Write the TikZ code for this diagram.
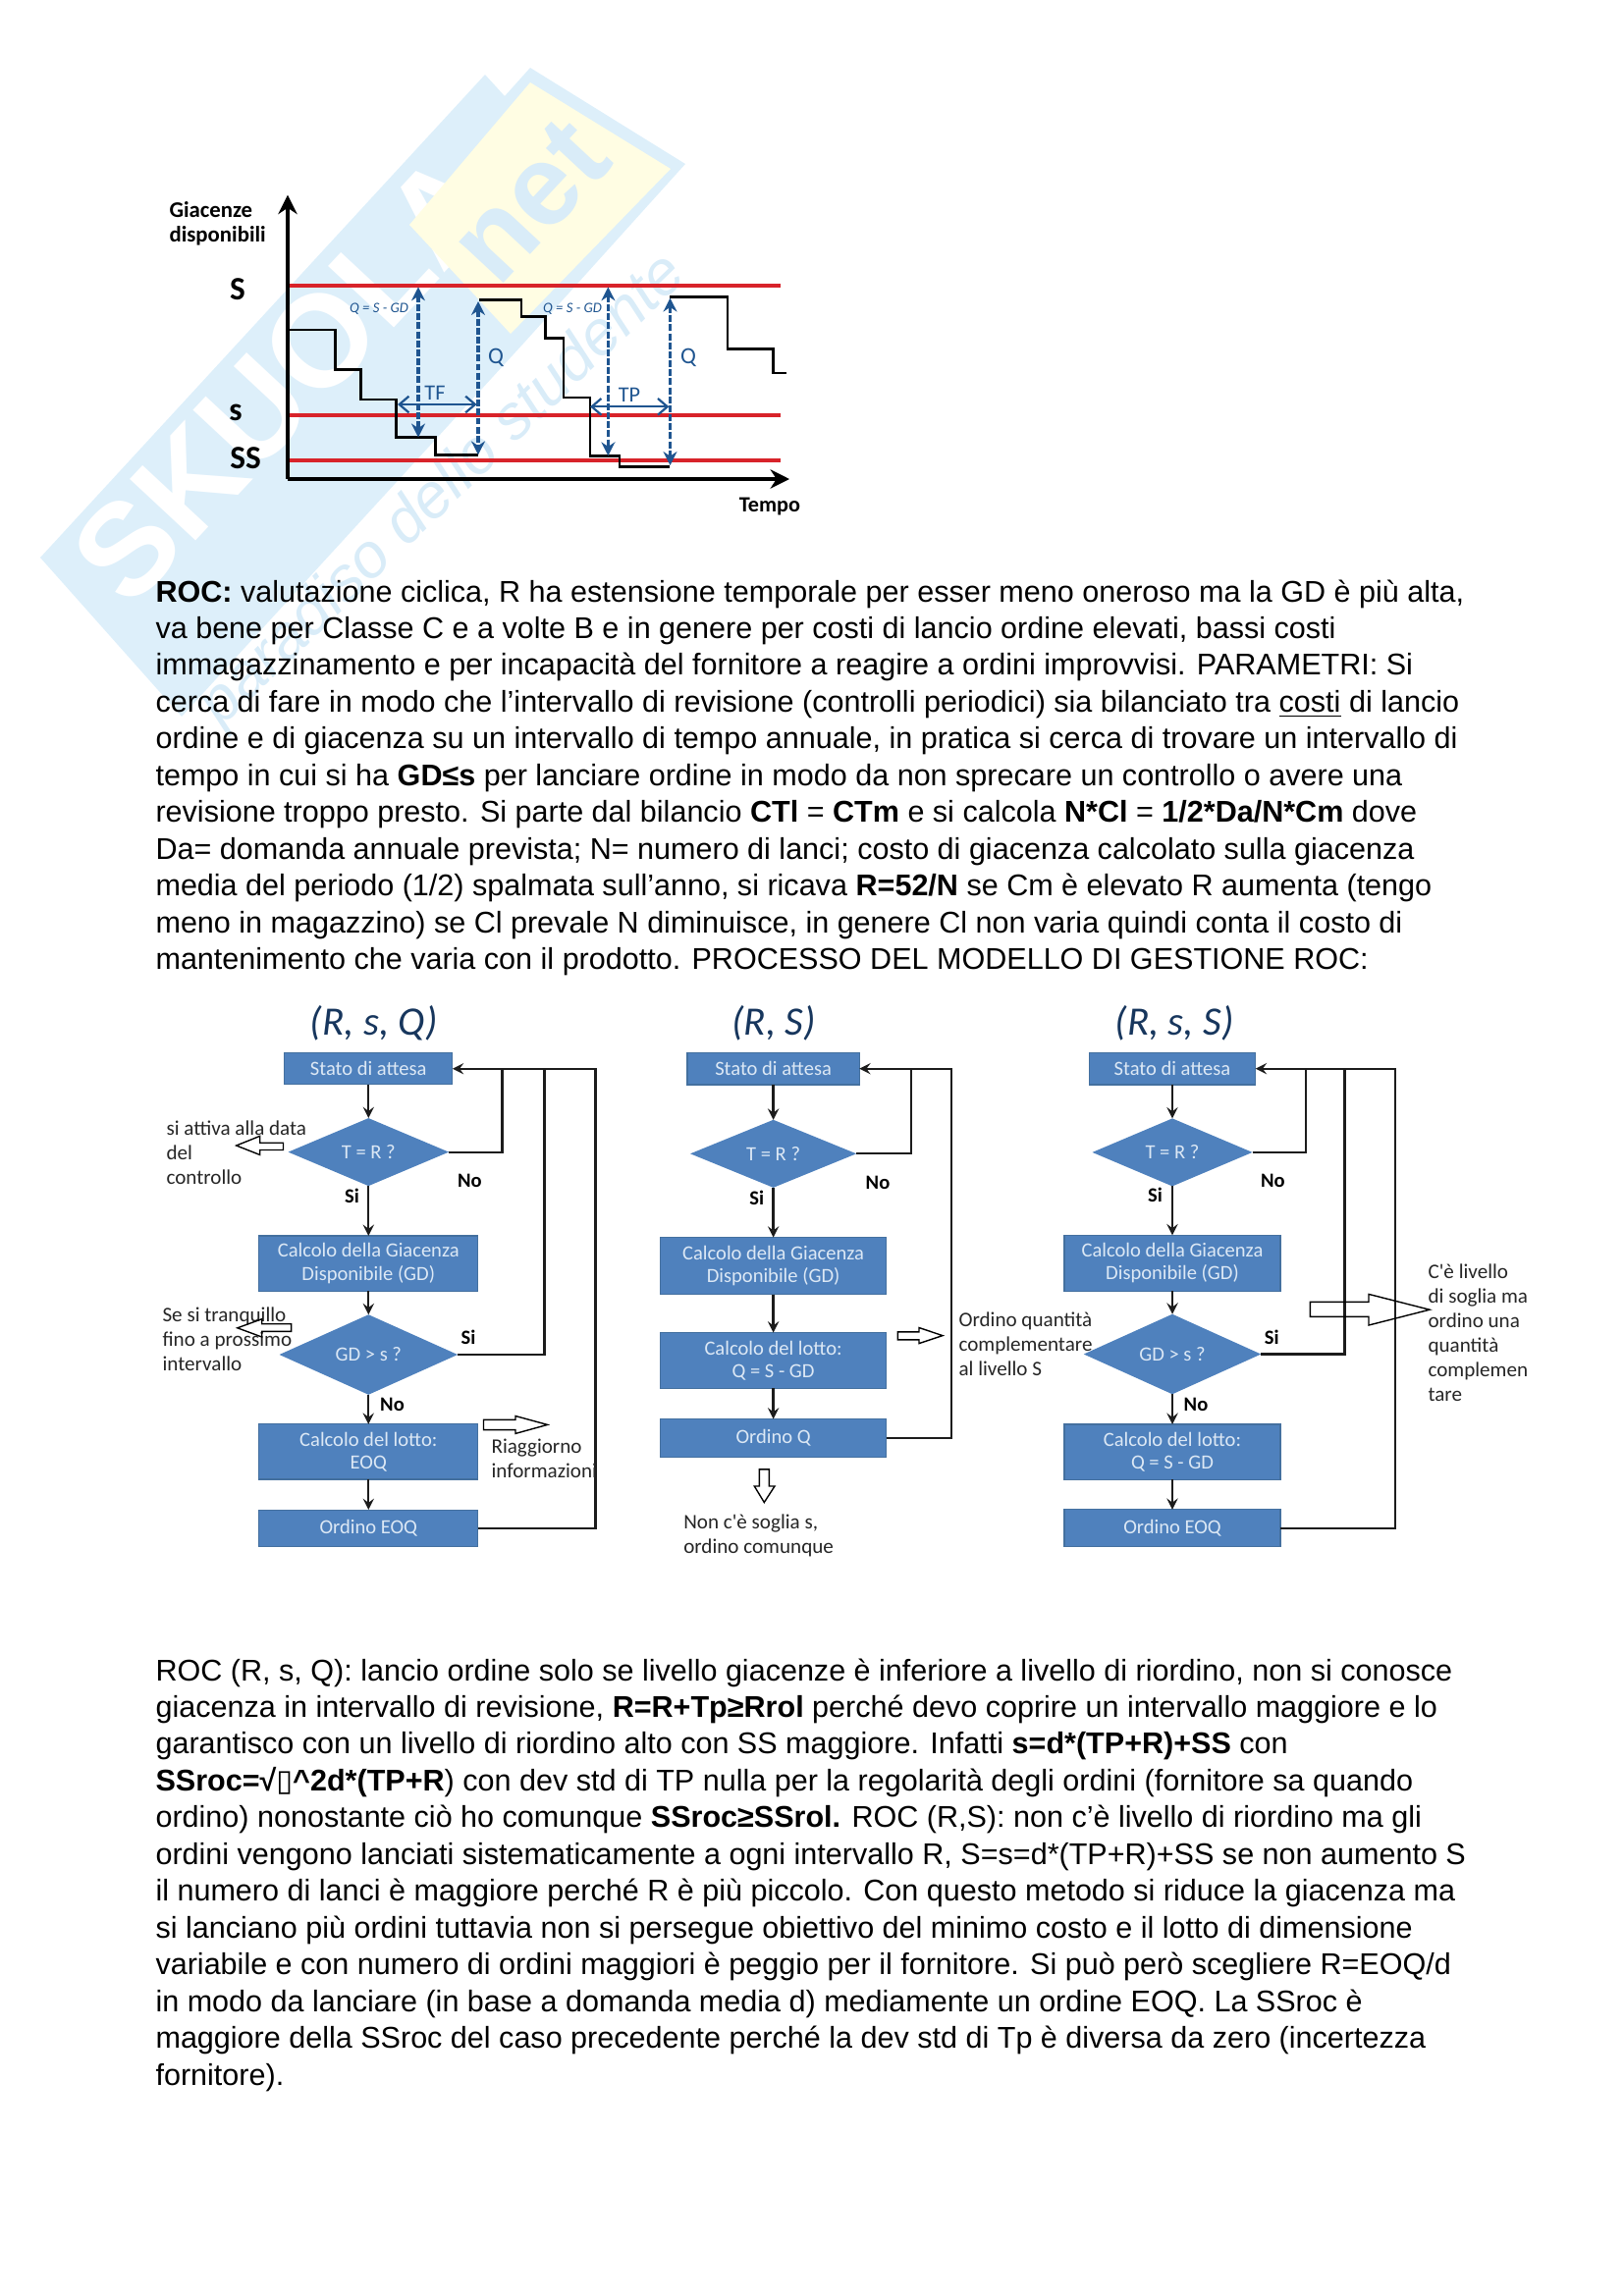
\documentclass[tikz,border=0pt]{standalone}
\usepackage{fontspec}
\setmainfont{Liberation Sans}
\newfontfamily\calfont{Carlito}
\newfontfamily\boxglyph{DejaVu Sans}
\usetikzlibrary{shapes.geometric, arrows.meta}

\definecolor{wmblue}{HTML}{DDEFFA}
\definecolor{wmyellow}{HTML}{FFFDE3}
\definecolor{wmtext}{HTML}{D9ECF8}
\definecolor{boxblue}{HTML}{4F81BD}
\definecolor{boxedge}{HTML}{44709F}
\definecolor{boxtext}{HTML}{DCE8F5}
\definecolor{stockred}{HTML}{D8232A}
\definecolor{stockblue}{HTML}{1F5590}
\definecolor{titleblue}{HTML}{17365D}
\definecolor{flowblack}{HTML}{1C1C1C}

\tikzset{
    flowbox/.style 2 args={rectangle, draw=boxedge, fill=boxblue, text=boxtext, align=center, inner sep=0pt, outer sep=0pt,
        minimum width=#1pt, minimum height=#2pt, font=\calfont\fontsize{7.4}{8.4}\selectfont},
    flowtest/.style 2 args={diamond, fill=boxblue, text=boxtext, inner sep=0pt, outer sep=0pt,
        minimum width=#1pt, minimum height=#2pt, font=\calfont\fontsize{7.4}{8.4}\selectfont},
    flowline/.style={draw=flowblack, line width=0.8pt},
    flowdown/.style={flowline, -stealth},
    flowlabel/.style={inner sep=0pt, font=\calfont\bfseries\fontsize{7.4}{9}\selectfont},
    flownote/.style={inner sep=0pt, anchor=west, align=left, text=black!85, font=\calfont\fontsize{7.6}{9}\selectfont},
    flowtitle/.style={inner sep=0pt, text=titleblue, font=\calfont\itshape\fontsize{14.8}{16}\selectfont},
    notearrow/.style={draw=black, line width=0.5pt},
    stocklevel/.style={draw=stockred, line width=1.1pt},
    stockstep/.style={draw=black, line width=1pt},
    stockaxis/.style={draw=black, line width=1.4pt, -{Stealth[length=7pt, width=7pt]}},
    stocktime/.style={draw=stockblue, line width=1.1pt, dash pattern=on 2.5pt off 0.8pt, {Stealth[length=5pt, width=5pt]}-{Stealth[length=5pt, width=5pt]}},
    stocklead/.style={draw=stockblue, line width=0.8pt, {Straight Barb[length=3.5pt, width=6pt]}-{Straight Barb[length=3.5pt, width=6pt]}},
    stocklabel/.style={inner sep=0pt, font=\calfont\bfseries\fontsize{12}{14}\selectfont},
    stockblue/.style={inner sep=0pt, text=stockblue, font=\calfont\fontsize{8.5}{10}\selectfont},
    pagetext/.style={inner sep=0pt, anchor=north west, align=left, font=\fontsize{11}{13.49}\selectfont},
}

\begin{document}
\begin{tikzpicture}[x=0.36012pt, y=-0.36012pt]
    \useasboundingbox (0,0) rectangle (1653,2339);

    % watermark
    \fill[wmblue] (41,568) -- (494,76) -- (514,98) -- (540,69) -- (698,167) -- (533,350) -- (185,730) -- cycle;
    \node (wmskuola) at (291,385) [rotate=47, inner sep=0pt, text=white, font=\bfseries\fontsize{48}{52}\selectfont] {SKUOLA};
    \fill[wmyellow] (540,84) -- (683,172) -- (520,340) -- (417,229) -- cycle;
    \node (wmnet) at (540,205) [rotate=47, inner sep=0pt, text=wmtext, font=\bfseries\fontsize{42}{46}\selectfont] {net};
    \node (wmline) at (452,500) [rotate=44, inner sep=0pt, text=wmtext, font=\itshape\fontsize{23}{26}\selectfont] {paradiso dello studente};

    % stock chart
    \draw[stocklevel] (293,291) -- (795,291);
    \draw[stocklevel] (293,423) -- (795,423);
    \draw[stocklevel] (293,469) -- (795,469);

    \draw[stockstep] (294.5,336) -- (341.6,336) -- (341.6,376.8) -- (367.4,376.8) -- (367.4,407) -- (403.6,407) -- (403.6,445.5) -- (443.2,445.5) -- (443.2,463.4) -- (486.8,463.4);
    \draw[stockstep] (488,305.8) -- (531,305.8) -- (531,322.3) -- (555.7,322.3) -- (555.7,344.2) -- (574,344.2) -- (574,405) -- (601,405) -- (601,464.3) -- (631,464.3) -- (631,475.4) -- (682,475.4);
    \draw[stockstep] (682,302.7) -- (741,302.7) -- (741,355.8) -- (787.6,355.8) -- (787.6,380) -- (800.8,380);

    \draw[stocktime] (426,292.4) -- (426,445.5);
    \draw[stocktime] (487,307) -- (487,463.4);
    \draw[stocktime] (619.4,292.4) -- (619.4,464.3);
    \draw[stocktime] (682.5,303.6) -- (682.5,474);
    \draw[stocklead] (405,412) -- (485.6,412);
    \draw[stocklead] (601,414.3) -- (681.4,414.3);

    \draw[stockaxis] (293,488) -- (293,198.7);
    \draw[stockaxis] (293,488) -- (804,488);

    \node (stockname) at (172,228) [inner sep=0pt, anchor=west, align=left, font=\calfont\bfseries\fontsize{8.2}{8.8}\selectfont] {Giacenze\\disponibili};
    \node (stocktempo) at (784,516.5) [inner sep=0pt, font=\calfont\bfseries\fontsize{8}{9}\selectfont] {Tempo};
    \node (levelS) at (242,294.6) [stocklabel] {S};
    \node (levels) at (240,420.5) [stocklabel] {s};
    \node (levelSS) at (250,466.5) [stocklabel] {SS};
    \node (orderQa) at (505,364.7) [stockblue] {Q};
    \node (orderQb) at (701,364.7) [stockblue] {Q};
    \node (leadTa) at (443,400.4) [stockblue, font=\calfont\fontsize{8}{10}\selectfont] {TF};
    \node (leadTb) at (641,402) [stockblue, font=\calfont\fontsize{8}{10}\selectfont] {TP};
    \node (gapa) at (386,314.7) [stockblue, font=\calfont\itshape\fontsize{5.3}{6}\selectfont] {Q = S - GD};
    \node (gapb) at (583,314.7) [stockblue, font=\calfont\itshape\fontsize{5.3}{6}\selectfont] {Q = S - GD};

    % first text block
    \node (textroc) at (158,590) [pagetext] {%
        \textbf{ROC:} valutazione ciclica, R ha estensione temporale per esser meno oneroso ma la GD è più alta,\\
        va bene per Classe C e a volte B e in genere per costi di lancio ordine elevati, bassi costi\\
        immagazzinamento e per incapacità del fornitore a reagire a ordini improvvisi. PARAMETRI: Si\\
        cerca di fare in modo che l’intervallo di revisione (controlli periodici) sia bilanciato tra \underline{costi} di lancio\\
        ordine e di giacenza su un intervallo di tempo annuale, in pratica si cerca di trovare un intervallo di\\
        tempo in cui si ha \textbf{GD≤s} per lanciare ordine in modo da non sprecare un controllo o avere una\\
        revisione troppo presto. Si parte dal bilancio \textbf{CTl} = \textbf{CTm} e si calcola \textbf{N*Cl} = \textbf{1/2*Da/N*Cm} dove\\
        Da= domanda annuale prevista; N= numero di lanci; costo di giacenza calcolato sulla giacenza\\
        media del periodo (1/2) spalmata sull’anno, si ricava \textbf{R=52/N} se Cm è elevato R aumenta (tengo\\
        meno in magazzino) se Cl prevale N diminuisce, in genere Cl non varia quindi conta il costo di\\
        mantenimento che varia con il prodotto. PROCESSO DEL MODELLO DI GESTIONE ROC:};

    % (R, s, Q)
    \node (titlea) at (381,1042.5) [flowtitle] {(R, s, Q)};
    \node (statoa) at (375.3,1088.7) [flowbox={61.6}{11.6}] {Stato di attesa};
    \node (testa) at (375.3,1173.6) [flowtest={58.9}{20}] {T = R ?};
    \node (calca) at (375.3,1287) [flowbox={80.3}{20.2}] {Calcolo della Giacenza\\Disponibile (GD)};
    \node (levela) at (375.3,1380) [flowtest={65.4}{28.6}] {GD > s ?};
    \node (lottoa) at (375.3,1478.9) [flowbox={80.3}{20.2}] {Calcolo del lotto:\\EOQ};
    \node (ordinea) at (375.3,1556.8) [flowbox={80.3}{13.5}] {Ordino EOQ};

    \coordinate (backa1) at (511.6,1088.7);
    \coordinate (backa2) at (554.5,1088.7);
    \coordinate (backa3) at (606.6,1088.7);

    \draw[flowdown] (statoa) -- (testa);
    \draw[flowdown] (testa) -- (calca);
    \draw[flowdown] (calca) -- (levela);
    \draw[flowdown] (levela) -- (lottoa);
    \draw[flowdown] (lottoa) -- (ordinea);
    \draw[flowline] (testa.east) -| (backa1);
    \draw[flowline] (levela.east) -| (backa2);
    \draw[flowdown] (ordinea.east) -| (backa3) -- (statoa.east);

    \node (noa) at (478.4,1202.5) [flowlabel] {No};
    \node (sia) at (358.6,1218.6) [flowlabel] {Si};
    \node (sib) at (477,1362) [flowlabel] {Si};
    \node (nob) at (399.5,1431) [flowlabel] {No};
    \node (notea1) at (169,1174.6) [flownote] {si attiva alla data\\del\\controllo};
    \node (notea2) at (165,1364) [flownote] {Se si tranquillo\\fino a prossimo\\intervallo};
    \node (notea3) at (500,1486) [flownote] {Riaggiorno\\informazioni};

    \draw[notearrow] (288.5,1164.2) -- (264.8,1164.2) -- (264.8,1157.3) -- (240.7,1167) -- (264.8,1176.5) -- (264.8,1171.5) -- (288.5,1171.5) -- cycle;
    \draw[notearrow] (296.6,1348.7) -- (266.7,1348.7) -- (266.7,1343.7) -- (241.8,1352.8) -- (266.7,1362) -- (266.7,1356.3) -- (296.6,1356.3) -- cycle;
    \draw[notearrow] (492.5,1446.3) -- (525,1446.3) -- (525,1442.5) -- (557.6,1451.4) -- (525,1460.4) -- (525,1456.6) -- (492.5,1456.6) -- cycle;

    % (R, S)
    \node (titleb) at (788,1042.5) [flowtitle] {(R, S)};
    \node (statob) at (787.6,1088.7) [flowbox={63.1}{11.7}] {Stato di attesa};
    \node (testb) at (787.6,1175.3) [flowtest={60.9}{20.7}] {T = R ?};
    \node (calcb) at (787.6,1289.7) [flowbox={82.8}{20.9}] {Calcolo della Giacenza\\Disponibile (GD)};
    \node (lottob) at (787.6,1386) [flowbox={82.8}{20.5}] {Calcolo del lotto:\\Q = S - GD};
    \node (ordineb) at (787.6,1465) [flowbox={82.8}{14}] {Ordino Q};

    \coordinate (backb1) at (928.3,1088.7);
    \coordinate (backb2) at (969.3,1088.7);

    \draw[flowdown] (statob) -- (testb);
    \draw[flowdown] (testb) -- (calcb);
    \draw[flowdown] (calcb) -- (lottob);
    \draw[flowdown] (lottob) -- (ordineb);
    \draw[flowline] (testb.east) -| (backb1);
    \draw[flowdown] (ordineb.east) -| (backb2) -- (statob.east);

    \node (noc) at (894,1204.4) [flowlabel] {No};
    \node (sic) at (770.7,1220.5) [flowlabel] {Si};
    \node (noteb1) at (976,1369.7) [flownote] {Ordino quantità\\complementare\\al livello S};
    \node (noteb2) at (695.7,1564) [flownote] {Non c'è soglia s,\\ordino comunque};

    \draw[notearrow] (914.3,1356.8) -- (936,1356.8) -- (936,1352.5) -- (960,1360.6) -- (936,1368.6) -- (936,1364.8) -- (914.3,1364.8) -- cycle;
    \draw[notearrow] (773.3,1496.8) -- (773.3,1514) -- (768.3,1514) -- (778.3,1530.5) -- (789,1514) -- (783.3,1514) -- (783.3,1496.8) -- cycle;

    % (R, s, S)
    \node (titlec) at (1196,1042.4) [flowtitle] {(R, s, S)};
    \node (statoc) at (1194,1088.7) [flowbox={61}{11.7}] {Stato di attesa};
    \node (testc) at (1194,1173.9) [flowtest={58.7}{20.1}] {T = R ?};
    \node (calcc) at (1194,1286.8) [flowbox={79.2}{20.5}] {Calcolo della Giacenza\\Disponibile (GD)};
    \node (levelc) at (1194,1379.5) [flowtest={65}{28.4}] {GD > s ?};
    \node (lottoc) at (1194,1479) [flowbox={79.2}{20.2}] {Calcolo del lotto:\\Q = S - GD};
    \node (ordinec) at (1194,1556.6) [flowbox={79.2}{13.5}] {Ordino EOQ};

    \coordinate (backc1) at (1329.6,1088.7);
    \coordinate (backc2) at (1369.5,1088.7);
    \coordinate (backc3) at (1421.3,1088.7);

    \draw[flowdown] (statoc) -- (testc);
    \draw[flowdown] (testc) -- (calcc);
    \draw[flowdown] (calcc) -- (levelc);
    \draw[flowdown] (levelc) -- (lottoc);
    \draw[flowdown] (lottoc) -- (ordinec);
    \draw[flowline] (testc.east) -| (backc1);
    \draw[flowline] (levelc.east) -| (backc2);
    \draw[flowdown] (ordinec.east) -| (backc3) -- (statoc.east);

    \node (nod) at (1296.4,1202.6) [flowlabel] {No};
    \node (sid) at (1176.6,1217.6) [flowlabel] {Si};
    \node (sie) at (1295.2,1362) [flowlabel] {Si};
    \node (noe) at (1218,1430.7) [flowlabel] {No};
    \node (notec1) at (1454,1357.5) [flownote] {C'è livello\\di soglia ma\\ordino una\\quantità\\complemen\\tare};

    \draw[notearrow] (1334.3,1326.3) -- (1394,1326.3) -- (1394,1318.4) -- (1456,1334.2) -- (1394,1350) -- (1394,1341.4) -- (1334.3,1341.4) -- cycle;

    % second text block
    \node (textrule) at (158,1689) [pagetext] {%
        ROC (R, s, Q): lancio ordine solo se livello giacenze è inferiore a livello di riordino, non si conosce\\
        giacenza in intervallo di revisione, \textbf{R=R+Tp≥Rrol} perché devo coprire un intervallo maggiore e lo\\
        garantisco con un livello di riordino alto con SS maggiore. Infatti \textbf{s=d*(TP+R)+SS} con\\
        \textbf{SSroc=√{\boxglyph ▯}\^{}2d*(TP+R}) con dev std di TP nulla per la regolarità degli ordini (fornitore sa quando\\
        ordino) nonostante ciò ho comunque \textbf{SSroc≥SSrol.} ROC (R,S): non c’è livello di riordino ma gli\\
        ordini vengono lanciati sistematicamente a ogni intervallo R, S=s=d*(TP+R)+SS se non aumento S\\
        il numero di lanci è maggiore perché R è più piccolo. Con questo metodo si riduce la giacenza ma\\
        si lanciano più ordini tuttavia non si persegue obiettivo del minimo costo e il lotto di dimensione\\
        variabile e con numero di ordini maggiori è peggio per il fornitore. Si può però scegliere R=EOQ/d\\
        in modo da lanciare (in base a domanda media d) mediamente un ordine EOQ. La SSroc è\\
        maggiore della SSroc del caso precedente perché la dev std di Tp è diversa da zero (incertezza\\
        fornitore).};
\end{tikzpicture}
\end{document}
